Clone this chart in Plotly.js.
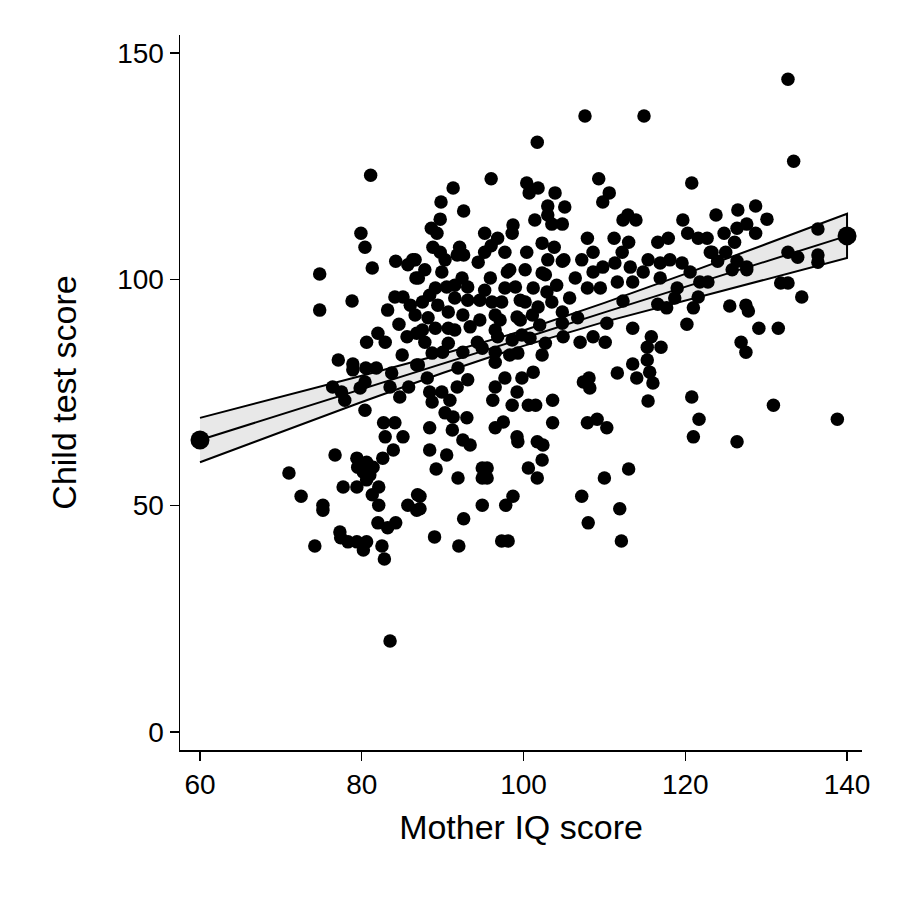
<!DOCTYPE html>
<html><head><meta charset="utf-8">
<script src="https://cdn.plot.ly/plotly-3.0.1.min.js"></script>
<style>html,body{margin:0;padding:0;background:#fff}</style>
</head><body><div id="chart" style="width:898px;height:898px"></div>
<script>
const momIQ = [132.7,133.4,107.6,114.9,101.7,81.1,96.0,91.3,89.8,92.6,100.4,101.8,100.7,103.9,103.0,105.1,89.7,88.6,89.3,95.2,96.8,98.7,98.6,101.4,103.0,103.5,104.8,102.3,103.8,100.4,97.7,95.2,96.0,88.8,89.7,92.1,91.8,92.6,90.3,86.6,103.0,104.8,
79.9,80.4,84.2,86.3,85.7,81.3,
109.3,120.8,110.6,109.8,112.9,112.3,113.9,119.7,107.9,111.2,113.0,108.6,112.2,116.6,117.9,120.3,121.6,122.7,123.1,105.0,107.2,109.8,111.3,113.2,115.4,116.9,118.1,119.6,
123.8,126.5,128.7,130.1,127.6,126.4,124.8,128.7,126.1,123.3,125.0,124.0,126.4,127.6,136.4,132.7,133.9,136.4,136.4,
74.8,74.8,78.8,86.7,84.1,85.1,83.2,86.0,84.6,82.0,82.9,80.6,85.6,86.8,85.0,77.1,78.9,78.9,80.5,81.8,83.7,86.8,76.4,77.5,77.9,79.8,80.4,83.5,84.7,85.8,80.4,82.7,84.1,82.9,85.1,83.9,76.7,79.4,80.6,82.6,
71.0,72.5,75.2,75.2,77.7,79.4,79.5,80.2,81.0,80.6,81.4,81.3,82.1,82.1,82.0,83.2,84.2,85.7,86.8,86.9,77.3,77.4,78.3,79.4,80.6,80.2,74.2,82.5,82.8,83.5,
89.2,91.9,94.9,95.5,94.9,95.5,100.6,101.7,102.3,87.2,87.2,94.9,98.7,97.8,92.6,89.0,92.0,97.3,98.1,
113.0,110.0,107.2,111.9,108.0,112.1,
113.5,115.8,115.3,117.0,115.3,113.5,115.6,116.0,114.0,111.6,108.1,107.4,108.2,115.4,120.8,121.7,121.0,107.9,109.1,110.3,120.2,121.0,121.6,117.7,116.6,110.3,110.1,108.6,107.0,104.9,106.7,104.8,113.5,112.3,109.5,107.9,105.7,106.4,108.6,111.6,114.8,116.9,119.0,120.6,121.8,118.7,
125.5,127.5,127.8,131.8,132.7,134.4,129.1,131.5,126.9,127.5,130.9,138.8,126.4,122.8,125.8,127.6,
89.9,87.0,92.4,95.9,98.0,100.2,102.3,89.1,90.5,93.1,97.7,99.0,101.2,102.9,87.5,89.4,91.5,93.1,94.6,96.1,97.3,100.2,101.8,103.5,104.8,86.6,88.2,90.7,92.5,93.4,96.5,99.2,101.1,87.5,89.1,90.7,96.5,99.8,100.8,102.7,87.8,90.7,94.3,96.8,98.6,88.7,90.0,92.5,94.9,96.5,99.3,102.3,87.0,88.1,91.9,96.5,101.2,99.8,97.7,93.1,88.4,89.9,91.8,96.5,99.2,88.7,90.9,96.2,98.6,100.6,101.5,103.6,90.3,91.3,93.0,97.5,96.5,99.2,99.3,103.6,88.4,91.2,92.5,93.4,101.7,102.4,88.4,90.5,
98.3,102.7,97.1,94.4,99.6,102.0,104.1,91.5,88.4,87.8,94.6,91.5,98.3,99.6,95.2];
const kidScore = [144.2,126.1,136.1,136.1,130.3,123.0,122.2,120.2,117.1,115.1,121.3,120.2,119.1,119.1,116.2,116.0,113.3,111.3,110.2,110.2,109.1,112.0,110.2,113.1,114.2,112.2,112.2,108.0,107.1,106.0,106.0,106.0,107.4,107.1,106.0,107.1,105.4,105.4,104.3,104.3,104.3,104.0,
110.2,107.1,104.0,104.3,103.2,102.5,
122.2,121.3,119.1,117.1,114.2,113.1,113.1,113.1,109.1,109.1,108.2,106.0,106.0,108.2,109.1,110.2,109.1,109.1,106.0,104.3,104.3,102.7,103.6,102.7,104.3,103.6,104.3,103.6,
114.2,115.3,116.2,113.3,112.2,111.3,110.2,110.2,108.2,106.0,106.0,104.0,104.0,102.7,111.1,106.0,104.9,105.4,103.8,
101.2,93.2,95.2,100.3,96.1,96.1,93.2,94.3,90.1,88.1,86.1,86.1,87.3,88.1,83.3,82.2,81.3,80.0,80.4,80.4,79.3,81.1,76.2,75.1,73.3,76.0,77.3,76.2,74.0,76.2,71.1,68.3,68.3,65.2,65.2,62.3,61.2,60.5,59.6,60.5,
57.2,52.1,50.1,49.0,54.1,54.1,58.5,57.4,56.8,55.7,58.5,52.4,54.1,50.1,46.2,45.1,46.2,50.1,49.0,52.4,44.2,42.9,42.0,42.0,42.0,40.2,41.1,41.1,38.2,20.1,
58.1,56.1,58.3,58.3,56.1,56.1,58.3,56.1,60.1,52.1,49.3,50.1,52.1,50.1,47.1,43.1,41.1,42.2,42.2,
58.1,56.1,52.1,49.3,46.2,42.2,
89.2,87.3,85.0,85.0,82.2,81.3,79.5,77.1,78.2,79.3,78.2,77.3,76.0,73.1,74.0,69.1,65.2,68.3,69.1,67.2,90.1,93.7,96.1,93.7,94.5,90.3,86.1,87.3,86.1,87.3,91.5,90.3,99.4,95.2,98.1,98.1,95.9,100.3,101.6,99.4,101.6,100.3,98.1,101.6,99.4,95.9,
94.1,94.3,93.0,99.2,99.2,96.1,89.2,89.2,86.1,83.9,72.2,69.1,64.1,99.4,102.1,102.1,
101.6,100.3,100.3,100.3,101.6,102.1,101.4,98.1,98.3,98.3,98.1,98.3,98.1,97.2,95.0,94.3,95.9,95.4,95.4,95.0,95.0,95.0,93.9,95.0,92.8,92.1,91.5,92.8,92.1,89.5,92.1,91.7,92.1,88.8,89.2,89.2,88.8,87.7,87.0,85.9,86.1,85.9,86.1,87.3,86.6,83.7,83.9,83.9,84.8,83.9,83.7,83.3,81.1,78.2,80.4,81.7,79.5,78.2,78.2,77.8,75.1,75.1,76.2,76.2,75.1,72.9,73.3,73.3,72.2,72.2,72.2,73.3,70.5,69.6,69.4,68.5,67.2,65.2,64.1,68.3,67.2,66.7,64.5,63.4,64.1,63.4,62.3,61.2,
102.1,101.0,91.0,103.8,95.4,89.9,98.7,98.7,96.5,102.1,91.0,88.8,83.3,91.0,97.6];

const fitX   = [60, 70, 80, 90, 100, 110, 120, 130, 140];
const fitY   = [64.5, 70.1, 75.8, 81.4, 87.0, 92.7, 98.3, 103.9, 109.6];
const ciLow  = [59.6, 66.2, 72.9, 79.3, 85.3, 90.6, 95.4, 100.0, 104.7];
const ciHigh = [69.4, 74.0, 78.7, 83.5, 88.7, 94.8, 101.2, 107.8, 114.5];
const xTicks = [60, 80, 100, 120, 140];
const yTicks = [0, 50, 100, 150];

const band = {
  x: fitX.concat(fitX.slice().reverse()),
  y: ciHigh.concat(ciLow.slice().reverse()),
  type: 'scatter', mode: 'lines', fill: 'toself',
  fillcolor: '#e8e8e8', line: {color: '#000', width: 2}, hoverinfo: 'skip'
};
const fitLine = {x: fitX, y: fitY, type: 'scatter', mode: 'lines', line: {color: '#000', width: 2}};
const pts = {x: momIQ, y: kidScore, type: 'scatter', mode: 'markers', marker: {color: '#000', size: 13.5}};
const ends = {x: [fitX[0], fitX[fitX.length-1]], y: [fitY[0], fitY[fitY.length-1]], type: 'scatter', mode: 'markers', marker: {color: '#000', size: 19}};

const font = 'Liberation Sans, Arial, Helvetica, sans-serif';
const layout = {
  width: 898, height: 898, showlegend: false,
  paper_bgcolor: '#fff', plot_bgcolor: '#fff',
  margin: {l: 180, r: 36, t: 35, b: 148},
  font: {family: font, color: '#000', size: 28},
  xaxis: {range: [57.53, 141.85], tickvals: xTicks, ticktext: xTicks.map(String),
    showgrid: false, zeroline: false, showline: true, linecolor: '#000', linewidth: 1.5,
    ticks: 'outside', ticklen: 9, tickwidth: 1.5, tickcolor: '#000', tickfont: {size: 28},
    title: {text: 'Mother IQ score', font: {size: 34}, standoff: 16}},
  yaxis: {range: [-3.98, 153.98], tickvals: yTicks, ticktext: yTicks.map(String),
    showgrid: false, zeroline: false, showline: true, linecolor: '#000', linewidth: 1.5,
    ticks: 'outside', ticklen: 9, tickwidth: 1.5, tickcolor: '#000', tickfont: {size: 28},
    title: {text: 'Child test score', font: {size: 34}, standoff: 30}}
};
Plotly.newPlot('chart', [band, fitLine, pts, ends], layout, {staticPlot: true, displayModeBar: false});
</script></body></html>
